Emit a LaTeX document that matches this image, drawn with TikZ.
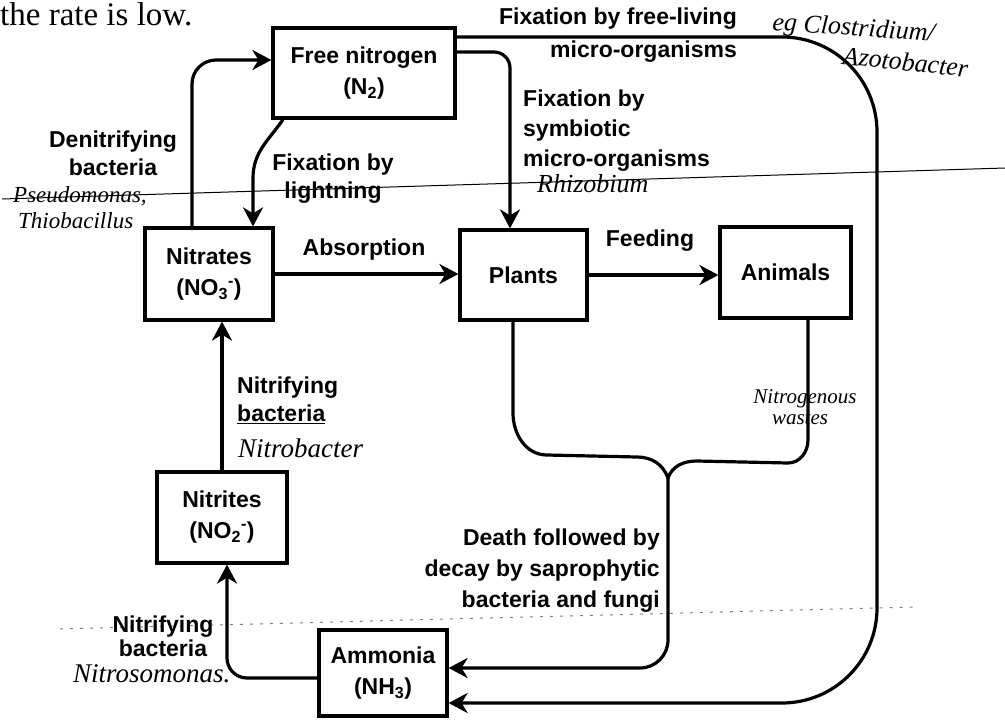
\documentclass[tikz,border=0pt]{standalone}
\usepackage{fontspec}
\setmainfont{Liberation Sans}
\newfontfamily\handfont{Liberation Serif}
\usetikzlibrary{arrows.meta}

\begin{document}
\begin{tikzpicture}[x=1pt,y=-1pt,
  txt/.style={font=\fontsize{23}{#1}\selectfont\bfseries,inner sep=0pt},txt/.default=28,
  box/.style n args={2}{draw,line width=3.2pt,minimum width=#1,minimum height=#2,align=center,inner sep=0pt,font=\fontsize{23}{31}\selectfont\bfseries},
  hand/.style={font=\handfont\itshape\fontsize{#1}{#1}\selectfont,inner sep=0pt},
  link/.style={line width=3.2pt},
  flow/.style={link,-{Stealth[length=19pt,width=20pt,inset=6pt]}}]
\useasboundingbox (0,0) rectangle (1005,721);
% ruled lines of the page
\draw[line width=1pt] (2,199) -- (1005,168);
\draw[gray,line width=1pt,dash pattern=on 3pt off 7pt] (60,629) -- (915,607);
\node[font=\handfont\fontsize{33}{33}\selectfont,inner sep=0pt,anchor=base west] (rate) at (0,25) {the rate is low.};
% boxes
\node[box={182pt}{90pt}] (freeN) at (364,73) {Free nitrogen\\(N\textsubscript{2})};
\node[box={128pt}{92pt}] (nitrates) at (209,274) {Nitrates\\(NO\textsubscript{3}\textsuperscript{-})};
\node[box={127pt}{90pt}] (plants) at (523.5,275) {Plants};
\node[box={131pt}{91pt}] (animals) at (785.5,272.5) {Animals};
\node[box={130pt}{91pt}] (nitrites) at (222,517.5) {Nitrites\\(NO\textsubscript{2}\textsuperscript{-})};
\node[box={128pt}{86pt}] (ammonia) at (383,673) {Ammonia\\(NH\textsubscript{3})};
% labels
\node[txt,align=center] (denit) at (113,153) {Denitrifying\\bacteria};
\node[hand=23,anchor=base west] (pseudo) at (13,202) {Pseudomonas,};
\node[hand=23,anchor=base west] (thio) at (18,228) {Thiobacillus};
\node[txt,align=center] (bolttxt) at (333,179) {Fixation by\\lightning};
\node[txt=33,align=right,anchor=east] (freetxt) at (737,35) {Fixation by free-living\\micro-organisms};
\node[hand=26,anchor=base west,rotate=-4] (clos) at (772,30) {eg Clostridium/};
\node[hand=26,anchor=base west,rotate=-6] (azo) at (842,64) {Azotobacter};
\node[txt=30,align=left,anchor=west] (symtxt) at (523,131) {Fixation by\\symbiotic\\micro-organisms};
\node[hand=26,anchor=base west] (rhizo) at (537,192) {Rhizobium};
\node[txt] (abs) at (364,250) {Absorption};
\node[txt] (feed) at (650,241) {Feeding};
\node[txt,align=left,anchor=west] (nitr1) at (237,400) {Nitrifying\\\underline{bacteria}};
\node[hand=27,anchor=base west] (nbac) at (238,457) {Nitrobacter};
\node[txt=24,align=center] (nitr2) at (163,636) {Nitrifying\\bacteria};
\node[hand=27,anchor=base west] (nsomo) at (73,682) {Nitrosomonas.};
\node[txt=31,align=right,anchor=east] (death) at (660,571) {Death followed by\\decay by saprophytic\\bacteria and fungi};
\node[hand=21,anchor=base] (waste1) at (805,403) {Nitrogenous};
\node[hand=21,anchor=base] (waste2) at (800,424) {wastes};
% connectors
\coordinate (bolt) at (253,178);
\coordinate (rightside) at (877,380);
\coordinate (merge) at (668,478);
\draw[flow,rounded corners=24pt] ([xshift=-17pt]nitrates.north) |- ([yshift=13pt]freeN.west);
\draw[flow] ([xshift=-81pt]freeN.south) to[out=-125,in=90] (bolt) -- ([xshift=44pt]nitrates.north);
\draw[flow,rounded corners=16pt] ([yshift=21pt]freeN.east) -| ([xshift=-13.5pt]plants.north);
\draw[flow,rounded corners=95pt] ([yshift=36pt]freeN.east) -| (rightside) |- ([yshift=-30pt]ammonia.east);
\draw[flow] (nitrates.east) -- (nitrates.east -| plants.west);
\draw[flow] (plants.east) -- (plants.east -| animals.west);
\draw[flow] (nitrites.north) -- (nitrites.north |- nitrates.south);
\draw[flow,rounded corners=20pt] ([yshift=-5pt]ammonia.west) -| ([xshift=5pt]nitrites.south);
\draw[link] ([xshift=-10.5pt]plants.south) -- (513,413) to[out=-90,in=180] (547,455) -- (637,457) to[out=0,in=110] (merge);
\draw[link] ([xshift=22.5pt]animals.south) -- (808,440) to[out=-90,in=0] (788,463) -- (697,461) to[out=180,in=70] (merge);
\draw[flow,rounded corners=28pt] (merge) |- ([yshift=5pt]ammonia.east);
\end{tikzpicture}
\end{document}
